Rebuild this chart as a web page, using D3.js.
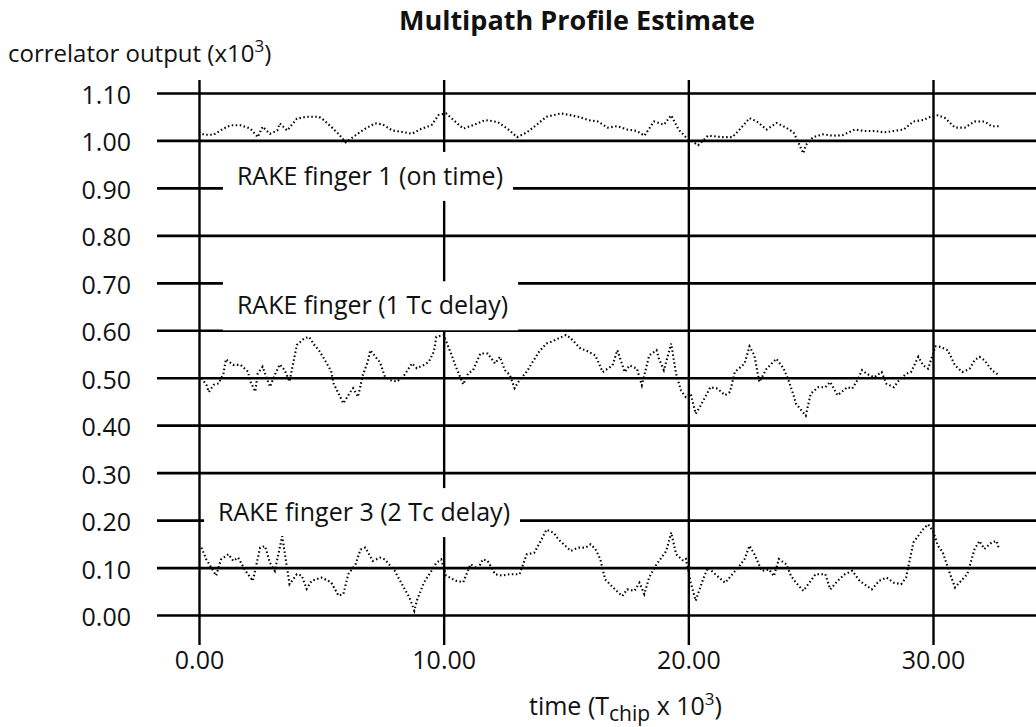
<!DOCTYPE html>
<html>
<head>
<meta charset="utf-8">
<script src="https://cdn.jsdelivr.net/npm/d3@7"></script>
<style>
  html, body { margin: 0; padding: 0; background: #fff; }
  svg { display: block; }
  text { font-family: "Open Sans", "DejaVu Sans", sans-serif; fill: #111; }
</style>
</head>
<body>
<svg id="chart" width="1036" height="727"></svg>
<script>
// Correlator output of the three RAKE fingers over time (T_chip x 10^3)
const yTicks = [0.00, 0.10, 0.20, 0.30, 0.40, 0.50, 0.60, 0.70, 0.80, 0.90, 1.00, 1.10];
const xTicks = [0, 10, 20, 30];

// finger 1, on time
const finger1 = [
  [0.0,1.018],[0.2,1.012],[0.6,1.012],[1.0,1.025],[1.3,1.032],[1.7,1.032],[2.1,1.025],[2.4,1.007],
  [2.6,1.029],[2.9,1.014],[3.2,1.021],[3.3,1.036],[3.6,1.021],[4.0,1.046],[4.4,1.050],[4.9,1.050],
  [5.1,1.043],[5.4,1.029],[5.7,1.014],[6.0,0.996],[6.4,1.011],[6.8,1.025],[7.2,1.036],[7.5,1.034],
  [7.9,1.021],[8.3,1.018],[8.7,1.014],[9.1,1.025],[9.5,1.032],[9.8,1.054],[10.1,1.057],[10.4,1.043],
  [10.8,1.025],[11.2,1.032],[11.7,1.043],[12.2,1.039],[12.6,1.025],[13.0,1.007],[13.4,1.017],[13.8,1.033],
  [14.2,1.050],[14.8,1.057],[15.5,1.050],[15.9,1.043],[16.3,1.040],[16.7,1.027],[17.1,1.030],[17.5,1.023],
  [17.9,1.020],[18.2,1.010],[18.6,1.040],[19.0,1.033],[19.3,1.053],[19.6,1.023],[19.9,1.007],[20.4,0.990],
  [20.8,1.010],[21.4,1.007],[21.8,1.007],[22.1,1.023],[22.5,1.047],[22.8,1.040],[23.2,1.023],[23.6,1.037],
  [24.0,1.027],[24.3,1.017],[24.7,0.973],[24.8,0.990],[25.1,1.007],[25.5,1.013],[25.9,1.010],[26.3,1.011],
  [26.8,1.023],[27.2,1.020],[27.6,1.020],[28.0,1.017],[28.4,1.020],[28.8,1.023],[29.2,1.040],[29.6,1.043],
  [29.9,1.050],[30.2,1.053],[30.5,1.047],[30.9,1.027],[31.3,1.027],[31.7,1.040],[32.1,1.040],[32.4,1.030],
  [32.7,1.030]
];

// finger 2, one chip delay
const finger2 = [
  [0.1,0.499],[0.3,0.485],[0.4,0.470],[0.6,0.485],[0.8,0.488],[1.0,0.509],[1.1,0.539],[1.4,0.527],
  [1.7,0.527],[2.0,0.513],[2.1,0.492],[2.3,0.471],[2.4,0.509],[2.6,0.523],[2.9,0.481],[3.1,0.506],
  [3.3,0.528],[3.5,0.516],[3.7,0.492],[4.0,0.569],[4.3,0.583],[4.5,0.586],[4.7,0.570],[4.9,0.558],
  [5.1,0.541],[5.4,0.514],[5.5,0.488],[5.7,0.467],[5.9,0.446],[6.2,0.471],[6.3,0.478],[6.5,0.460],
  [6.7,0.506],[6.9,0.534],[7.0,0.558],[7.4,0.532],[7.6,0.502],[7.8,0.495],[8.1,0.492],[8.4,0.506],
  [8.7,0.530],[8.9,0.520],[9.2,0.527],[9.4,0.534],[9.6,0.555],[9.7,0.586],[10.0,0.590],[10.3,0.551],
  [10.5,0.523],[10.8,0.486],[11.0,0.509],[11.2,0.516],[11.5,0.551],[11.8,0.551],[12.1,0.530],[12.3,0.544],
  [12.5,0.516],[12.7,0.506],[12.9,0.478],[13.1,0.495],[13.4,0.513],[13.6,0.530],[13.9,0.555],[14.2,0.572],
  [14.4,0.576],[14.7,0.583],[15.0,0.590],[15.2,0.583],[15.6,0.561],[15.8,0.558],[16.2,0.547],[16.5,0.512],
  [16.9,0.526],[17.1,0.558],[17.4,0.512],[17.6,0.526],[17.9,0.519],[18.1,0.484],[18.4,0.547],[18.7,0.558],
  [18.8,0.540],[19.0,0.516],[19.3,0.572],[19.5,0.508],[19.7,0.473],[19.9,0.459],[20.1,0.466],[20.3,0.424],
  [20.5,0.441],[20.9,0.480],[21.2,0.477],[21.5,0.463],[21.7,0.470],[21.9,0.512],[22.3,0.530],[22.5,0.566],
  [22.7,0.547],[22.9,0.491],[23.2,0.519],[23.6,0.540],[23.9,0.519],[24.1,0.494],[24.3,0.463],[24.4,0.445],
  [24.8,0.420],[25.0,0.466],[25.3,0.480],[25.6,0.480],[25.8,0.491],[26.1,0.463],[26.5,0.480],[26.7,0.477],
  [26.9,0.494],[27.1,0.516],[27.3,0.508],[27.6,0.501],[27.9,0.512],[28.1,0.487],[28.4,0.480],[28.6,0.494],
  [28.9,0.508],[29.1,0.512],[29.4,0.544],[29.6,0.526],[29.8,0.519],[30.1,0.566],[30.3,0.565],[30.6,0.558],
  [30.9,0.526],[31.2,0.512],[31.5,0.519],[31.7,0.537],[31.9,0.544],[32.1,0.537],[32.4,0.516],[32.7,0.505]
];

// finger 3, two chip delay
const finger3 = [
  [0.1,0.142],[0.3,0.117],[0.7,0.083],[0.9,0.117],[1.2,0.128],[1.4,0.114],[1.6,0.121],[1.9,0.093],
  [2.2,0.072],[2.5,0.142],[2.7,0.145],[2.9,0.110],[3.1,0.093],[3.4,0.166],[3.7,0.065],[4.0,0.086],
  [4.2,0.083],[4.4,0.055],[4.6,0.072],[5.0,0.079],[5.4,0.069],[5.7,0.041],[5.9,0.044],[6.1,0.086],
  [6.4,0.107],[6.6,0.138],[6.8,0.142],[7.1,0.114],[7.4,0.121],[7.6,0.117],[8.0,0.093],[8.4,0.055],
  [8.6,0.037],[8.8,0.009],[8.9,0.030],[9.2,0.069],[9.5,0.093],[9.7,0.110],[9.9,0.117],[10.1,0.083],
  [10.5,0.072],[10.8,0.069],[11.1,0.107],[11.4,0.097],[11.6,0.117],[11.8,0.114],[12.1,0.086],[12.4,0.083],
  [12.7,0.086],[13.1,0.086],[13.4,0.128],[13.7,0.131],[14.0,0.159],[14.2,0.180],[14.5,0.173],[14.7,0.159],
  [15.2,0.135],[15.5,0.142],[15.8,0.142],[16.0,0.149],[16.2,0.139],[16.4,0.118],[16.6,0.075],[17.0,0.054],
  [17.3,0.040],[17.5,0.054],[17.8,0.051],[18.0,0.068],[18.2,0.044],[18.4,0.079],[18.7,0.107],[19.1,0.135],
  [19.3,0.174],[19.5,0.128],[19.8,0.114],[19.9,0.118],[20.1,0.068],[20.3,0.030],[20.6,0.075],[20.8,0.100],
  [21.1,0.086],[21.5,0.068],[21.8,0.086],[22.1,0.104],[22.3,0.118],[22.5,0.146],[22.7,0.128],[23.0,0.093],
  [23.3,0.096],[23.5,0.082],[23.7,0.118],[24.0,0.107],[24.2,0.082],[24.4,0.068],[24.7,0.051],[25.0,0.072],
  [25.2,0.086],[25.6,0.086],[25.8,0.054],[26.1,0.072],[26.4,0.086],[26.7,0.093],[27.0,0.072],[27.3,0.061],
  [27.5,0.054],[27.8,0.072],[28.1,0.079],[28.4,0.068],[28.7,0.065],[28.9,0.079],[29.2,0.153],[29.4,0.167],
  [29.6,0.181],[29.8,0.191],[30.0,0.177],[30.2,0.146],[30.4,0.132],[30.7,0.086],[30.9,0.058],[31.2,0.075],
  [31.4,0.086],[31.7,0.139],[31.9,0.156],[32.1,0.139],[32.4,0.153],[32.6,0.156],[32.7,0.139]
];

const seriesList = [finger1, finger2, finger3];
const fingerLabels = [
  { text: "RAKE finger 1 (on time)",    t: 1.55, v: 0.90, dy: -3 },
  { text: "RAKE finger (1 Tc delay)",   t: 1.55, v: 0.60, dy: -16 },
  { text: "RAKE finger 3 (2 Tc delay)", t: 0.78, v: 0.20, dy: 1 }
];

const svg = d3.select("#chart");
const x = d3.scaleLinear().domain([0, 30]).range([199, 933]);
const y = d3.scaleLinear().domain([0, 1.1]).range([615, 93]);
const gridLeft = 157, gridRight = 1036;
const lineTop = 80, lineBottom = 645;

// title and axis captions
svg.append("text").attr("x", 577).attr("y", 30).attr("text-anchor", "middle")
  .style("font-size", "27px").style("font-weight", "bold").text("Multipath Profile Estimate");

const yCap = svg.append("text").attr("x", 8).attr("y", 62).style("font-size", "24px");
yCap.append("tspan").text("correlator output (x10");
yCap.append("tspan").attr("dy", -10).style("font-size", "17px").text("3");
yCap.append("tspan").attr("dy", 10).text(")");

// horizontal grid lines with value labels (left axis)
const yAxis = d3.axisLeft(y).tickValues(yTicks).tickFormat(d3.format(".2f"))
  .tickSize(gridRight - gridLeft).tickPadding(26);
const gy = svg.append("g").attr("transform", `translate(${gridRight},0)`).call(yAxis);
gy.select(".domain").remove();
gy.selectAll(".tick line").attr("stroke", "#000").attr("stroke-width", 2.7);
gy.selectAll(".tick text").style("font-size", "25px").attr("fill", "#111")
  .attr("dy", "0.42em")
  .style("font-family", "'Open Sans', sans-serif");

// vertical time lines with labels
const xAxis = d3.axisBottom(x).tickValues(xTicks).tickFormat(d3.format(".2f"))
  .tickSize(lineBottom - lineTop).tickPadding(6);
const gx = svg.append("g").attr("transform", `translate(0,${lineTop})`).call(xAxis);
gx.select(".domain").remove();
gx.selectAll(".tick line").attr("stroke", "#000").attr("stroke-width", 2.4);
gx.selectAll(".tick text").style("font-size", "25px").attr("fill", "#111")
  .style("font-family", "'Open Sans', sans-serif");

const xCap = svg.append("text").attr("x", 529).attr("y", 715).style("font-size", "25px");
xCap.append("tspan").text("time (T");
xCap.append("tspan").attr("dy", 6).style("font-size", "21px").text("chip");
xCap.append("tspan").attr("dy", -6).text(" x 10");
xCap.append("tspan").attr("dy", -10).style("font-size", "17px").text("3");
xCap.append("tspan").attr("dy", 10).text(")");

// series captions sit on the grid, each on a white patch
const capG = svg.append("g");
fingerLabels.forEach(d => {
  const baseY = y(d.v) + d.dy;
  const txt = capG.append("text")
    .attr("x", x(d.t)).attr("y", baseY)
    .style("font-size", "25px").text(d.text);
  const w = txt.node().getComputedTextLength();
  capG.insert("rect", "text")
    .attr("x", x(d.t) - 14).attr("y", baseY - 33)
    .attr("width", w + 24).attr("height", 49)
    .attr("fill", "#fff");
});

// dotted traces
const line = d3.line().x(d => x(d[0])).y(d => y(d[1]));
svg.append("g").selectAll("path").data(seriesList).join("path")
  .attr("d", line)
  .attr("fill", "none")
  .attr("stroke", "#000")
  .attr("stroke-width", 2.1)
  .attr("stroke-dasharray", "1.5 2.5");
</script>
</body>
</html>
